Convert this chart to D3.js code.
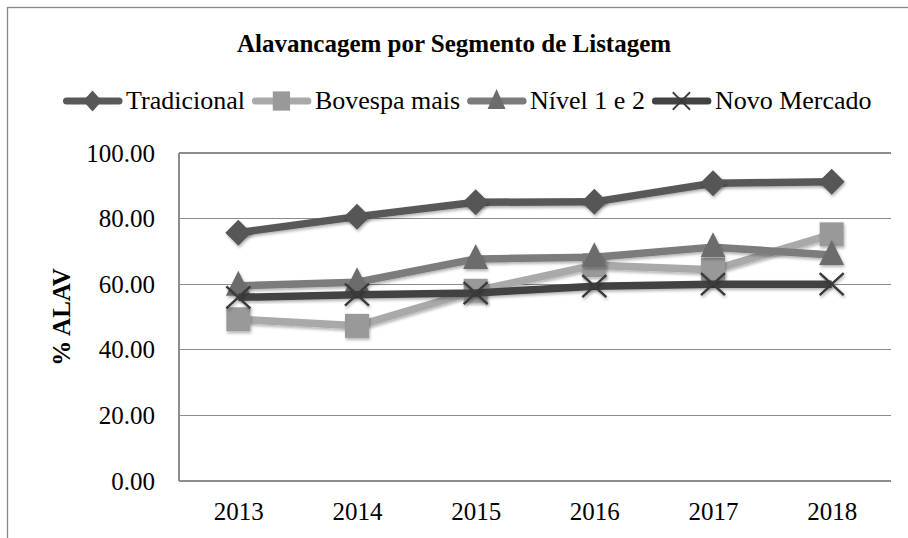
<!DOCTYPE html>
<meta charset="utf-8">
<head>
<style>
  body { margin: 0; background: #fff; }
  svg text { font-family: "Liberation Serif", "Times New Roman", serif; fill: #000; }
  .grid line { stroke: #8c8c8c; stroke-width: 1.3; shape-rendering: crispEdges; }
  .tick text { font-size: 25px; }
</style>
</head>
<body>
<script src="https://d3js.org/d3.v7.min.js"></script>
<script>

// data
var years = ["2013", "2014", "2015", "2016", "2017", "2018"];
var tradicional = [75.7, 80.6, 85.0, 85.1, 90.8, 91.2];
var bovespaMais = [49.3, 47.3, 58.0, 65.8, 64.4, 75.2];
var nivel12 = [59.5, 60.6, 67.7, 68.2, 71.3, 68.9];
var novoMercado = [56.0, 56.8, 57.3, 59.4, 60.0, 60.0];
var yTicks = [0, 20, 40, 60, 80, 100];

var series = [
  {name: "Tradicional", values: tradicional, color: "#595959", mcolor: "#575757", marker: "diamond"},
  {name: "Bovespa mais", values: bovespaMais, color: "#a9a9a9", mcolor: "#999999", marker: "square"},
  {name: "Nível 1 e 2", values: nivel12, color: "#7b7b7b", mcolor: "#6c6c6c", marker: "triangle"},
  {name: "Novo Mercado", values: novoMercado, color: "#424242", mcolor: "#3a3a3a", marker: "cross"}
];

var W = 908, H = 538;
var margin = {top: 153, right: 17, bottom: 57, left: 179},
    width = W - margin.left - margin.right,
    height = H - margin.top - margin.bottom;

var svg = d3.select("body").append("svg")
    .attr("width", W)
    .attr("height", H);

// soft shadow under lines and markers
var defs = svg.append("defs");
var f = defs.append("filter").attr("id", "shadow")
    .attr("x", "-50%").attr("y", "-50%").attr("width", "200%").attr("height", "200%");
f.append("feDropShadow").attr("dx", 1).attr("dy", 2).attr("stdDeviation", 1.5)
    .attr("flood-color", "#000").attr("flood-opacity", 0.3);

// chart frame (cut off on the right and bottom)
svg.append("rect")
    .attr("x", 7.5).attr("y", 7.5)
    .attr("width", W + 20).attr("height", H + 20)
    .attr("fill", "none").attr("stroke", "#888").attr("stroke-width", 1.3);

svg.append("text")
    .attr("x", 454).attr("y", 52)
    .attr("text-anchor", "middle")
    .style("font-size", "25px").style("font-weight", "bold")
    .text("Alavancagem por Segmento de Listagem");

var g = svg.append("g")
    .attr("transform", "translate(" + margin.left + "," + margin.top + ")");

var x = d3.scalePoint().domain(years).range([0, width]).padding(0.5);
var y = d3.scaleLinear().domain([0, 100]).range([height, 0]);

// gridlines
g.append("g").attr("class", "grid")
  .selectAll("line").data(yTicks).enter().append("line")
    .attr("x1", 0).attr("x2", width)
    .attr("y1", function(d) { return y(d); })
    .attr("y2", function(d) { return y(d); });

g.append("line")
    .attr("x1", 0).attr("x2", 0).attr("y1", 0).attr("y2", height)
    .attr("stroke", "#8c8c8c").attr("stroke-width", 1.3)
    .style("shape-rendering", "crispEdges");

var yAxis = g.append("g")
    .call(d3.axisLeft(y).tickValues(yTicks).tickSize(0).tickPadding(24)
      .tickFormat(d3.format(".2f")));
yAxis.select(".domain").remove();

var xAxis = g.append("g")
    .attr("transform", "translate(0," + height + ")")
    .call(d3.axisBottom(x).tickSize(0).tickPadding(21));
xAxis.select(".domain").remove();

svg.append("text")
    .attr("transform", "translate(70," + (margin.top + height / 2) + ") rotate(-90)")
    .attr("text-anchor", "middle")
    .style("font-size", "25px").style("font-weight", "bold")
    .text("% ALAV");

function drawMarker(sel, type, color) {
  if (type === "diamond") {
    sel.append("path").attr("d", "M0,-13L13,0L0,13L-13,0Z").attr("fill", color);
  } else if (type === "square") {
    sel.append("rect").attr("x", -12).attr("y", -12).attr("width", 24).attr("height", 24)
      .attr("fill", color);
  } else if (type === "triangle") {
    sel.append("path").attr("d", "M0,-15L12.5,10L-12.5,10Z").attr("fill", color);
  } else {
    sel.append("path").attr("d", "M-12,-11L12,11M-12,11L12,-11")
      .attr("stroke", color).attr("stroke-width", 2.5);
  }
}

var line = d3.line()
    .x(function(d, i) { return x(years[i]); })
    .y(function(d) { return y(d); });

series.forEach(function(s) {
  g.append("path")
    .datum(s.values)
    .attr("fill", "none")
    .attr("stroke", s.color)
    .attr("stroke-width", 7.5)
    .attr("stroke-linejoin", "round")
    .attr("filter", "url(#shadow)")
    .attr("d", line);

  s.values.forEach(function(v, i) {
    var m = g.append("g")
      .attr("transform", "translate(" + x(years[i]) + "," + y(v) + ")")
      .attr("filter", "url(#shadow)");
    drawMarker(m, s.marker, s.mcolor);
  });
});

// legend, laid out one after another like the original
var lx = 63;
series.forEach(function(s) {
  var item = svg.append("g")
      .attr("class", "legend")
      .attr("transform", "translate(" + lx + ",101)");

  item.append("line")
      .attr("x1", 3.5).attr("x2", 56).attr("y1", 0).attr("y2", 0)
      .attr("stroke", s.color)
      .attr("stroke-width", 7).attr("stroke-linecap", "round");

  var m = item.append("g").attr("transform", "translate(29.5,0) scale(0.72,0.8)");
  drawMarker(m, s.marker, s.mcolor);

  var t = item.append("text")
      .attr("x", 63).attr("y", 8)
      .style("font-size", "26px")
      .text(s.name);

  lx += 63 + t.node().getComputedTextLength() + 7;
});

</script>
</body>
